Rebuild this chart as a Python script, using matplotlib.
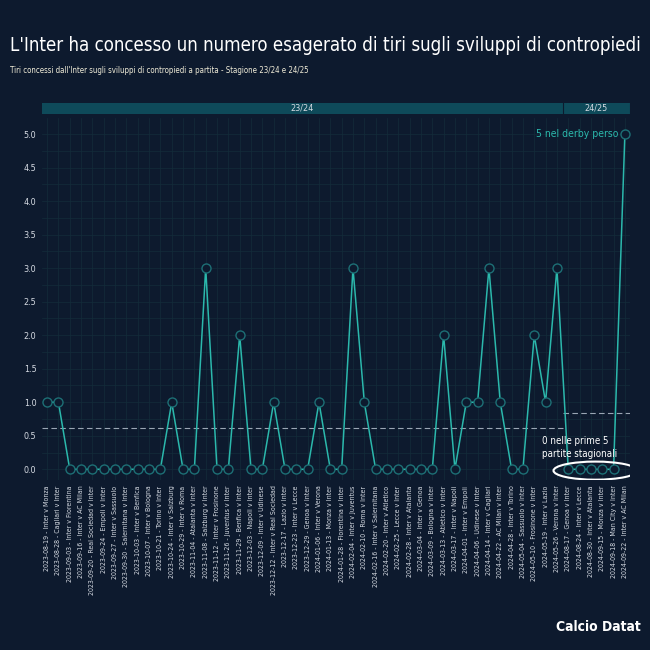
import numpy as np
import matplotlib

matplotlib.use("AGG")
from matplotlib import pyplot
from matplotlib.patches import Ellipse, Rectangle

matches = [
    "2023-08-19 - Inter v Monza", "2023-08-28 - Cagliari v Inter",
    "2023-09-03 - Inter v Fiorentina", "2023-09-16 - Inter v AC Milan",
    "2023-09-20 - Real Sociedad v Inter", "2023-09-24 - Empoli v Inter",
    "2023-09-27 - Inter v Sassuolo", "2023-09-30 - Salernitana v Inter",
    "2023-10-03 - Inter v Benfica", "2023-10-07 - Inter v Bologna",
    "2023-10-21 - Torino v Inter", "2023-10-24 - Inter v Salzburg",
    "2023-10-29 - Inter v Roma", "2023-11-04 - Atalanta v Inter",
    "2023-11-08 - Salzburg v Inter", "2023-11-12 - Inter v Frosinone",
    "2023-11-26 - Juventus v Inter", "2023-11-29 - Benfica v Inter",
    "2023-12-03 - Napoli v Inter", "2023-12-09 - Inter v Udinese",
    "2023-12-12 - Inter v Real Sociedad", "2023-12-17 - Lazio v Inter",
    "2023-12-23 - Inter v Lecce", "2023-12-29 - Genoa v Inter",
    "2024-01-06 - Inter v Verona", "2024-01-13 - Monza v Inter",
    "2024-01-28 - Fiorentina v Inter", "2024-02-04 - Inter v Juventus",
    "2024-02-10 - Roma v Inter", "2024-02-16 - Inter v Salernitana",
    "2024-02-20 - Inter v Atletico", "2024-02-25 - Lecce v Inter",
    "2024-02-28 - Inter v Atalanta", "2024-03-04 - Inter v Genoa",
    "2024-03-09 - Bologna v Inter", "2024-03-13 - Atletico v Inter",
    "2024-03-17 - Inter v Napoli", "2024-04-01 - Inter v Empoli",
    "2024-04-06 - Udinese v Inter", "2024-04-14 - Inter v Cagliari",
    "2024-04-22 - AC Milan v Inter", "2024-04-28 - Inter v Torino",
    "2024-05-04 - Sassuolo v Inter", "2024-05-10 - Frosinone v Inter",
    "2024-05-19 - Inter v Lazio", "2024-05-26 - Verona v Inter",
    "2024-08-17 - Genoa v Inter", "2024-08-24 - Inter v Lecce",
    "2024-08-30 - Inter v Atalanta", "2024-09-15 - Monza v Inter",
    "2024-09-18 - Man City v Inter", "2024-09-22 - Inter v AC Milan",
]
shots = [1, 1, 0, 0, 0, 0, 0, 0, 0, 0, 0, 1, 0, 0, 3, 0, 0, 2, 0, 0, 1, 0, 0,
         0, 1, 0, 0, 3, 1, 0, 0, 0, 0, 0, 0, 2, 0, 1, 1, 3, 1, 0, 0, 2, 1, 3,
         0, 0, 0, 0, 0, 5]
seasons = ["23/24", "24/25"]
season_games = [46, 6]

bg = "#0d1a2e"
teal = "#2bb8ac"
teal_dark = "#1d6f75"
band = "#0e4a5a"
txt = "#d6dbe3"

pyplot.rcParams["font.family"] = ["DejaVu Sans"]
pyplot.rcParams["font.stretch"] = "condensed"

fig = pyplot.figure(figsize=(6.5, 6.5), dpi=100, facecolor=bg)
ax = fig.add_axes([0.0646, 0.2615, 0.9046, 0.557], facecolor=bg)

x = np.arange(len(shots))
ax.plot(x, shots, color=teal, lw=1.1, zorder=3)
ax.plot(x, shots, "o", ms=6.5, mfc=bg, mec=teal_dark, mew=1.0, zorder=4)

# season averages
start = 0
for n in season_games:
    seg = shots[start:start + n]
    lo = -0.45 if start == 0 else start - 0.5
    hi = start + n - 0.5 if start + n < len(shots) else len(shots) - 0.55
    ax.plot([lo, hi], [np.mean(seg)] * 2, color="#9aa6b4", lw=0.8,
            ls=(0, (5, 3)), zorder=2)
    start += n

ax.set_xlim(-0.45, len(shots) - 0.55)
ax.set_ylim(-0.16, 5.24)
ax.set_xticks(x)
ax.set_xticklabels(matches, rotation=90, fontsize=5.0, color=txt)
ax.set_yticks(np.arange(0, 5.01, 0.5))
ax.set_yticklabels([f"{v:.1f}" for v in np.arange(0, 5.01, 0.5)],
                   fontsize=6.5, color=txt)
ax.set_yticks(np.arange(0, 5.01, 0.25), minor=True)
ax.tick_params(length=0, pad=4)
ax.tick_params(which="minor", length=0)
ax.grid(True, which="both", color="#132c3a", lw=0.5, zorder=0)
for s in ax.spines.values():
    s.set_visible(False)

# season band on top
bax = fig.add_axes([0.0646, 0.8246, 0.9046, 0.017])
bax.set_xlim(ax.get_xlim())
bax.set_ylim(0, 1)
bax.axis("off")
start = -0.45
for name, n in zip(seasons, season_games):
    end = start + n if start > 0 else n - 0.5
    end = min(end, len(shots) - 0.55)
    bax.add_patch(Rectangle((start, 0), end - start, 1, color=band, lw=0))
    bax.text((start + end) / 2, 0.5, name, ha="center", va="center",
             fontsize=6.5, color=txt)
    bax.plot([end, end], [0, 1], color=bg, lw=0.8)
    start = end

# annotations
ax.text(len(shots) - 1.6, 5.0, "5 nel derby perso", ha="right", va="center",
        fontsize=7.5, color=teal)
ax.text(43.7, 0.15, "0 nelle prime 5\npartite stagionali", ha="left",
        va="bottom", fontsize=7, color="white", linespacing=1.4)
ax.add_patch(Ellipse((48.4, -0.02), 7.4, 0.27, fill=False, ec="white",
                     lw=1.5, zorder=5))

fig.text(0.015, 0.93, "L'Inter ha concesso un numero esagerato di tiri sugli "
         "sviluppi di contropiedi", fontsize=13.4, color="white", va="center")
fig.text(0.015, 0.892, "Tiri concessi dall'Inter sugli sviluppi di contropiedi "
         "a partita - Stagione 23/24 e 24/25", fontsize=5.7, color="#f0ecd8",
         va="center")
fig.text(0.985, 0.025, "Calcio Datat", fontsize=10, color="white",
         ha="right", va="bottom", weight="bold")

pyplot.savefig("out.png", dpi=100, facecolor=bg)
pyplot.close()
